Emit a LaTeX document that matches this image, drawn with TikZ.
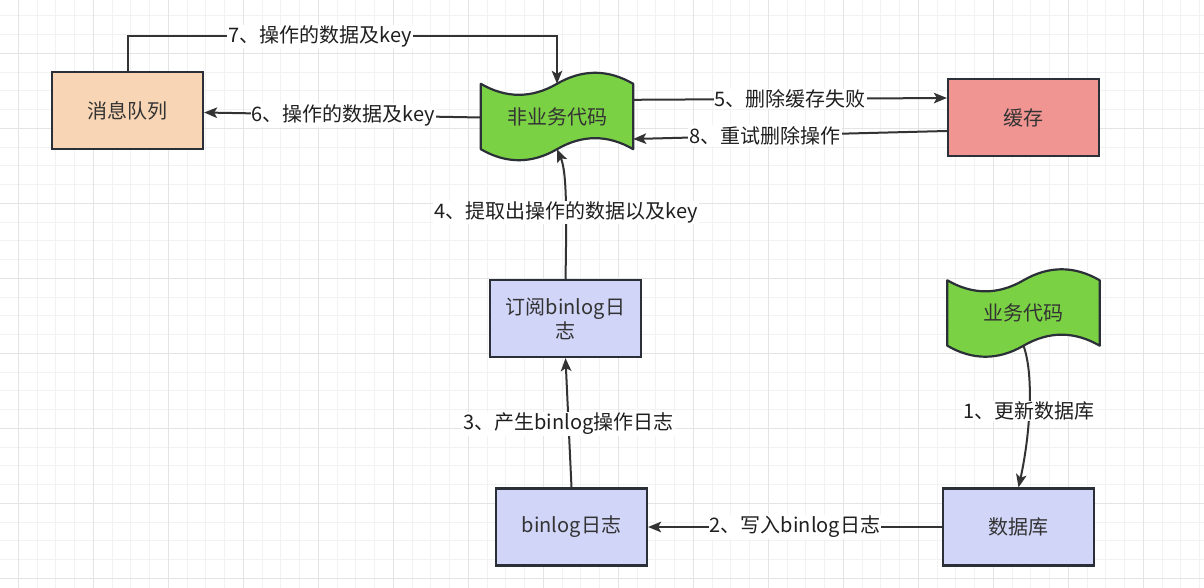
\documentclass[tikz,border=0pt]{standalone}
\usepackage{fontspec}
\setmainfont{Noto Sans CJK SC}
\usetikzlibrary{arrows.meta,calc}
\pgfdeclarelayer{gridlayer}
\pgfdeclarelayer{shapelayer}
\pgfsetlayers{gridlayer,shapelayer,main}
\definecolor{minorc}{HTML}{F2F2F2}
\definecolor{majorc}{HTML}{E4E4E4}
\definecolor{bordc}{HTML}{2B3038}
\definecolor{edgec}{HTML}{333333}
\definecolor{txtc}{HTML}{333333}
\definecolor{lblc}{HTML}{1F1F1F}
\definecolor{peach}{HTML}{F8D5B4}
\definecolor{greenf}{HTML}{7BD144}
\definecolor{pinkf}{HTML}{F19592}
\definecolor{lavf}{HTML}{D1D5F8}
\newcommand\drawtapeshape[1]{%
  \begin{pgfonlayer}{shapelayer}
  \draw[tapeline] (#1.north west)
    .. controls ($(#1.north west)+(25.3,14.7)$) and ($(#1.north)+(-25.3,14.7)$) .. (#1.north)
    .. controls ($(#1.north)+(25.3,-14.7)$) and ($(#1.north east)+(-25.3,-14.7)$) .. (#1.north east)
    -- (#1.south east)
    .. controls ($(#1.south east)+(-25.3,-14.7)$) and ($(#1.south)+(25.3,-14.7)$) .. (#1.south)
    .. controls ($(#1.south)+(-25.3,14.7)$) and ($(#1.south west)+(25.3,14.7)$) .. (#1.south west)
    -- cycle;
  \end{pgfonlayer}}
\tikzset{
  minorgrid/.style={draw=minorc, line width=1pt},
  majorgrid/.style={draw=majorc, line width=1pt},
  nodefont/.style={font=\fontsize{20}{24}\selectfont, text=txtc},
  box/.style={nodefont, draw=bordc, line width=2.2pt, minimum width=151pt, minimum height=77pt, inner sep=0pt, align=center},
  tapenode/.style={nodefont, draw=none, minimum width=152pt, minimum height=65pt, inner sep=0pt},
  tapeline/.style={draw=bordc, line width=2.2pt, fill=greenf, line join=round},
  arr/.style={draw=edgec, line width=2pt, -{Stealth[length=13pt, width=10.5pt, inset=3pt]}},
  lbl/.style={fill=white, inner sep=1pt, font=\fontsize{20}{24}\selectfont, text=lblc}
}
\begin{document}
\begin{tikzpicture}[x=1pt, y=-1pt]
\useasboundingbox (0,0) rectangle (1204,588);
\begin{pgfonlayer}{gridlayer}
  \fill[white] (0,0) rectangle (1204,588);
  \foreach \i in {1,...,64} \draw[minorgrid] ({-0.45+18.75*\i},0) -- ({-0.45+18.75*\i},588);
  \foreach \i in {1,...,31} \draw[minorgrid] (0,{-2.95+18.75*\i}) -- (1204,{-2.95+18.75*\i});
  \foreach \i in {0,...,15} \draw[majorgrid] ({18.3+75*\i},0) -- ({18.3+75*\i},588);
  \foreach \i in {0,...,7} \draw[majorgrid] (0,{53.3+75*\i}) -- (1204,{53.3+75*\i});
\end{pgfonlayer}

% nodes
\node[box, fill=peach] (mq) at (127.5,110.5) {消息队列};
\node[box, fill=pinkf] (cache) at (1023.5,117.5) {缓存};
\node[box, fill=lavf] (sub) at (565.5,318.5) {订阅binlog日\\志};
\node[box, fill=lavf] (blog) at (571.5,527) {binlog日志};
\node[box, fill=lavf] (db) at (1018.5,527) {数据库};
\node[tapenode] (nb) at (557,116.5) {非业务代码};
\drawtapeshape{nb}
\node[tapenode] (biz) at (1023.5,313) {业务代码};
\drawtapeshape{biz}

% connectors
\draw[arr] (mq.north) -- (mq.north |- 0,36.5) -| node[lbl, pos=0.224] {7、操作的数据及key} (nb.north);
\draw[arr] ($(nb.west)+(0,1)$) -- node[lbl, pos=0.497] {6、操作的数据及key} ($(mq.east)+(0,2)$);
\draw[arr] ($(nb.north east)+(0,16)$) -- node[lbl, pos=0.5] {5、删除缓存失败} ($(cache.west)+(0,-19.5)$);
\draw[arr] ($(cache.west)+(0,13.5)$) -- node[lbl, pos=0.58] {8、重试删除操作} ($(nb.east)+(0,22.5)$);
\draw[arr] (sub.north) .. controls (567,200) and (566,170) .. node[lbl, pos=0.35] {4、提取出操作的数据以及key} (nb.south);
\draw[arr] (blog.north) -- node[lbl, pos=0.49] {3、产生binlog操作日志} (sub.south);
\draw[arr] (db.west) -- node[lbl, pos=0.5] {2、写入binlog日志} (blog.east);
\draw[arr] (biz.south) .. controls (1035,378) and (1029,440) .. node[lbl, pos=0.5] {1、更新数据库} (db.north);
\end{tikzpicture}
\end{document}
